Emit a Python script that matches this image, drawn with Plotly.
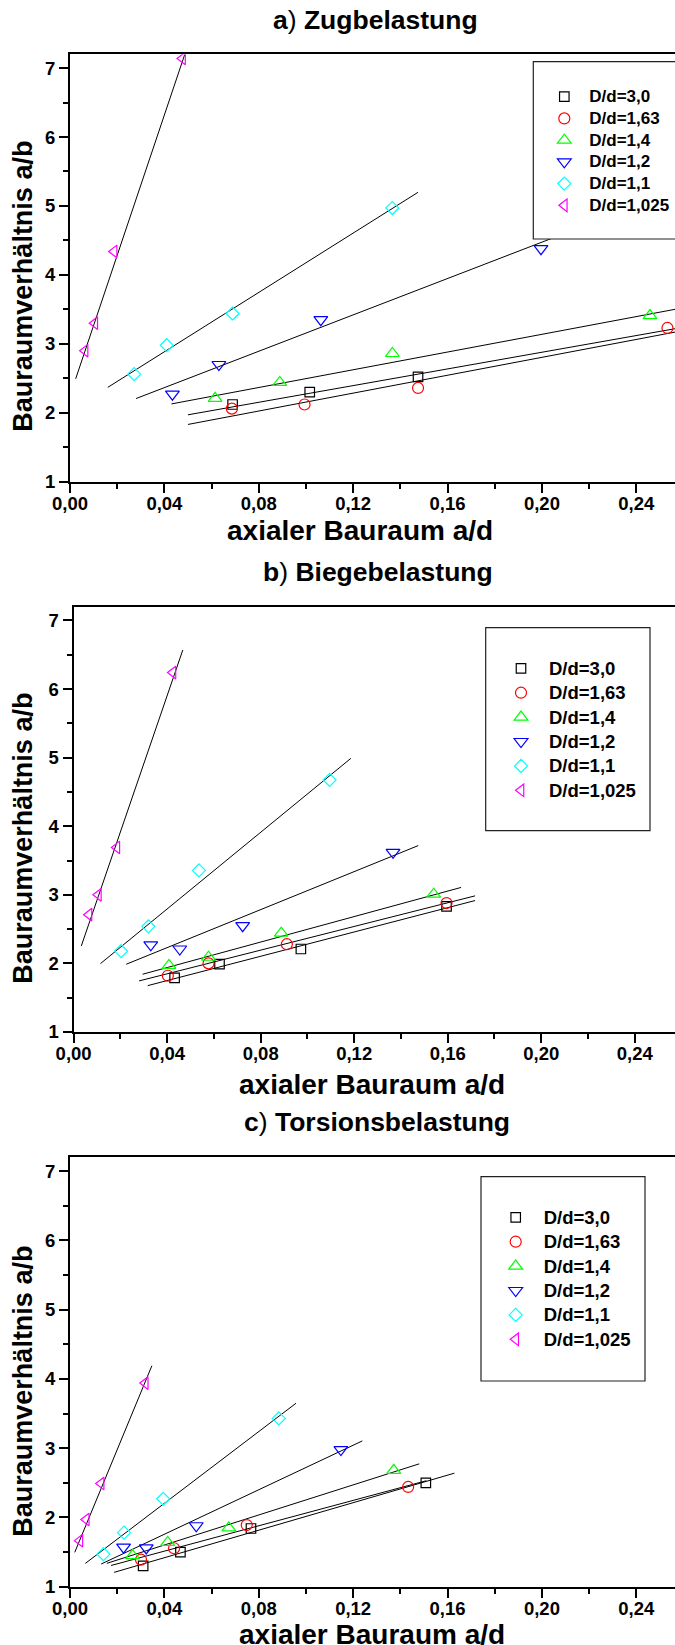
import numpy as np
import plotly.graph_objects as go

W, H = 675, 1645
FONT = "Liberation Sans"

# Legend entries shared by all three load cases
series_names = ["D/d=3,0", "D/d=1,63", "D/d=1,4", "D/d=1,2", "D/d=1,1", "D/d=1,025"]
colors = ["#000000", "#ff0000", "#00ff00", "#0000ff", "#00ffff", "#ff00ff"]
symbols = ["square-open", "circle-open", "triangle-up-open",
           "triangle-down-open", "diamond-open", "triangle-left-open"]
marker_sizes = [9.5, 11, 12, 12, 10, 11]

x_ticks = [0.00, 0.04, 0.08, 0.12, 0.16, 0.20, 0.24]
y_ticks = [1, 2, 3, 4, 5, 6, 7]

# a) Zugbelastung: measured points
zug_x = [
    [0.0689, 0.1016, 0.1475],
    [0.0686, 0.0994, 0.1475, 0.2532],
    [0.0615, 0.0889, 0.1366, 0.2458],
    [0.0434, 0.0631, 0.1063, 0.1996],
    [0.0272, 0.0410, 0.0689, 0.1366],
    [0.0064, 0.0105, 0.0187, 0.0477],
]
zug_y = [
    [2.12, 2.30, 2.52],
    [2.06, 2.12, 2.36, 3.23],
    [2.21, 2.44, 2.86, 3.41],
    [2.27, 2.70, 3.35, 4.38],
    [2.56, 2.98, 3.44, 4.97],
    [2.90, 3.30, 4.34, 7.14],
]
# linear fits: slope, intercept and the x span each fit is drawn over
zug_slope = [6.05, 6.49, 6.43, 13.19, 21.52, 101.8]
zug_icept = [1.668, 1.506, 1.852, 1.837, 2.024, 2.248]
zug_from = [0.050, 0.050, 0.043, 0.028, 0.016, 0.0024]
zug_to = [0.26, 0.26, 0.26, 0.25, 0.1475, 0.0486]

# b) Biegebelastung
biege_x = [
    [0.0432, 0.0624, 0.0972, 0.1595],
    [0.0403, 0.0577, 0.0912, 0.1595],
    [0.0408, 0.0577, 0.0888, 0.1540],
    [0.0330, 0.0454, 0.0723, 0.1366],
    [0.0203, 0.0320, 0.0536, 0.1095],
    [0.0066, 0.0106, 0.0185, 0.0425],
]
biege_y = [
    [1.79, 1.99, 2.21, 2.83],
    [1.82, 2.00, 2.28, 2.88],
    [1.97, 2.09, 2.44, 3.01],
    [2.27, 2.21, 2.55, 3.62],
    [2.18, 2.54, 3.355, 4.675],
    [2.71, 3.00, 3.69, 6.24],
]
biege_slope = [8.86, 8.63, 9.29, 13.85, 27.94, 99.4]
biege_icept = [1.395, 1.503, 1.568, 1.676, 1.676, 1.927]
biege_from = [0.0317, 0.0280, 0.0295, 0.0225, 0.0115, 0.0033]
biege_to = [0.1717, 0.1717, 0.1657, 0.1474, 0.1186, 0.0467]

# c) Torsionsbelastung
tors_x = [
    [0.0310, 0.0468, 0.0767, 0.1508],
    [0.0301, 0.0441, 0.0749, 0.1433],
    [0.0265, 0.0414, 0.0673, 0.1372],
    [0.0227, 0.0323, 0.0535, 0.1148],
    [0.0142, 0.0229, 0.0395, 0.0885],
    [0.0042, 0.0069, 0.0132, 0.0319],
]
tors_y = [
    [1.30, 1.50, 1.84, 2.50],
    [1.39, 1.555, 1.89, 2.44],
    [1.45, 1.64, 1.85, 2.68],
    [1.57, 1.56, 1.88, 2.98],
    [1.47, 1.78, 2.27, 3.43],
    [1.665, 1.97, 2.49, 3.94],
]
tors_slope = [9.93, 9.16, 10.85, 16.06, 25.9, 82.4]
tors_icept = [1.0215, 1.147, 1.168, 1.115, 1.168, 1.331]
tors_from = [0.0187, 0.0174, 0.0156, 0.0132, 0.0065, 0.0020]
tors_to = [0.1629, 0.151, 0.148, 0.1239, 0.0958, 0.0347]

panel_titles = ["<b>a</b>) <b>Zugbelastung</b>",
                "<b>b</b>) <b>Biegebelastung</b>",
                "<b>c</b>) <b>Torsionsbelastung</b>"]
x_title = "axialer Bauraum a/d"
y_title = "Bauraumverhältnis a/b"

panels = [
    dict(px=zug_x, py=zug_y, k=zug_slope, d=zug_icept, f=zug_from, t=zug_to),
    dict(px=biege_x, py=biege_y, k=biege_slope, d=biege_icept, f=biege_from, t=biege_to),
    dict(px=tors_x, py=tors_y, k=tors_slope, d=tors_icept, f=tors_from, t=tors_to),
]

# page geometry (pixels)
geo = [
    dict(x0=70.0, top=54.3, bot=481.7, xmax=0.2564,
         title=(375.5, 20), xt=(360, 530), yt=(22.7, 286),
         box=(533.3, 61.7, 700, 239), leg=(539.3, 80.85), legfs=14.4, txtfs=17, iw=40),
    dict(x0=73.6, top=606.7, bot=1032.0, xmax=0.2572,
         title=(377.6, 572), xt=(372, 1084.5), yt=(22.7, 838),
         box=(485.7, 627.7, 650, 830.7), leg=(493.0, 651.1), legfs=16.46, txtfs=18.5, iw=46),
    dict(x0=70.0, top=1157.3, bot=1586.7, xmax=0.2564,
         title=(376.5, 1122), xt=(372, 1634), yt=(22.7, 1391),
         box=(481.0, 1176.7, 645, 1381), leg=(487.7, 1200.1), legfs=16.46, txtfs=18.5, iw=46),
]


def px(x):
    return x / W


def py(y):
    return 1 - y / H


fig = go.Figure()
layout = dict(
    width=W, height=H,
    margin=dict(l=0, r=0, t=0, b=0, autoexpand=False),
    paper_bgcolor="white", plot_bgcolor="white",
    separators=",.",
    showlegend=True,
    shapes=[], annotations=[],
)

tickfont = dict(family=FONT, size=18.5, color="black", weight="bold")

for p, (data, g) in enumerate(zip(panels, geo)):
    n = p + 1
    xa = "x" if n == 1 else f"x{n}"
    ya = "y" if n == 1 else f"y{n}"
    leg = "legend" if n == 1 else f"legend{n}"

    # fit lines first so markers sit on top
    for i in range(6):
        xs = np.array([data["f"][i], data["t"][i]])
        ys = data["k"][i] * xs + data["d"][i]
        fig.add_trace(go.Scatter(
            x=xs, y=ys, mode="lines", xaxis=xa, yaxis=ya,
            line=dict(color="black", width=1), showlegend=False, hoverinfo="skip"))
    for i in range(6):
        fig.add_trace(go.Scatter(
            x=data["px"][i], y=data["py"][i], mode="markers", xaxis=xa, yaxis=ya,
            name=f'<span style="font-size:{g["txtfs"]}px">{series_names[i]}</span>',
            legend=leg,
            marker=dict(symbol=symbols[i], size=marker_sizes[i], color=colors[i],
                        line=dict(color=colors[i], width=1.2))))

    layout[f"xaxis{'' if n == 1 else n}"] = dict(
        domain=[px(g["x0"]), 1], range=[0, g["xmax"]], anchor=ya,
        showline=True, linewidth=2, linecolor="black", mirror=True,
        ticks="outside", ticklen=9, tickwidth=2, tickcolor="black",
        tickvals=x_ticks, tickformat=".2f", tickfont=tickfont, ticklabelstandoff=-5,
        minor=dict(dtick=0.02, tick0=0, ticks="outside", ticklen=5, tickwidth=2,
                   tickcolor="black", showgrid=False),
        showgrid=False, zeroline=False)
    layout[f"yaxis{'' if n == 1 else n}"] = dict(
        domain=[py(g["bot"]), py(g["top"])], range=[1, 7.2], anchor=xa,
        showline=True, linewidth=2, linecolor="black", mirror=False,
        ticks="outside", ticklen=9, tickwidth=2, tickcolor="black",
        tickvals=y_ticks, tickfont=tickfont,
        minor=dict(dtick=0.5, tick0=1, ticks="outside", ticklen=5, tickwidth=2,
                   tickcolor="black", showgrid=False),
        showgrid=False, zeroline=False)

    layout[leg] = dict(
        x=px(g["leg"][0]), y=py(g["leg"][1]), xanchor="left", yanchor="top",
        bgcolor="rgba(0,0,0,0)", borderwidth=0, itemwidth=g["iw"],
        font=dict(family=FONT, size=g["legfs"], color="black", weight="bold"),
        tracegroupgap=0)

    bx0, by0, bx1, by1 = g["box"]
    layout["shapes"].append(dict(
        type="rect", xref="paper", yref="paper", layer="above",
        x0=px(bx0), x1=px(bx1), y0=py(by1), y1=py(by0),
        line=dict(color="#222222", width=1.2), fillcolor="white"))

    layout["annotations"] += [
        dict(text=panel_titles[p], x=px(g["title"][0]), y=py(g["title"][1]),
             xref="paper", yref="paper", showarrow=False, xanchor="center", yanchor="middle",
             font=dict(family=FONT, size=26.5, color="black")),
        dict(text=f"<b>{x_title}</b>", x=px(g["xt"][0]), y=py(g["xt"][1]),
             xref="paper", yref="paper", showarrow=False, xanchor="center", yanchor="middle",
             font=dict(family=FONT, size=28, color="black")),
        dict(text=f"<b>{y_title}</b>", x=px(g["yt"][0]), y=py(g["yt"][1]), textangle=-90,
             xref="paper", yref="paper", showarrow=False, xanchor="center", yanchor="middle",
             font=dict(family=FONT, size=27, color="black")),
    ]

fig.update_layout(**layout)
fig.write_html("out.html")
